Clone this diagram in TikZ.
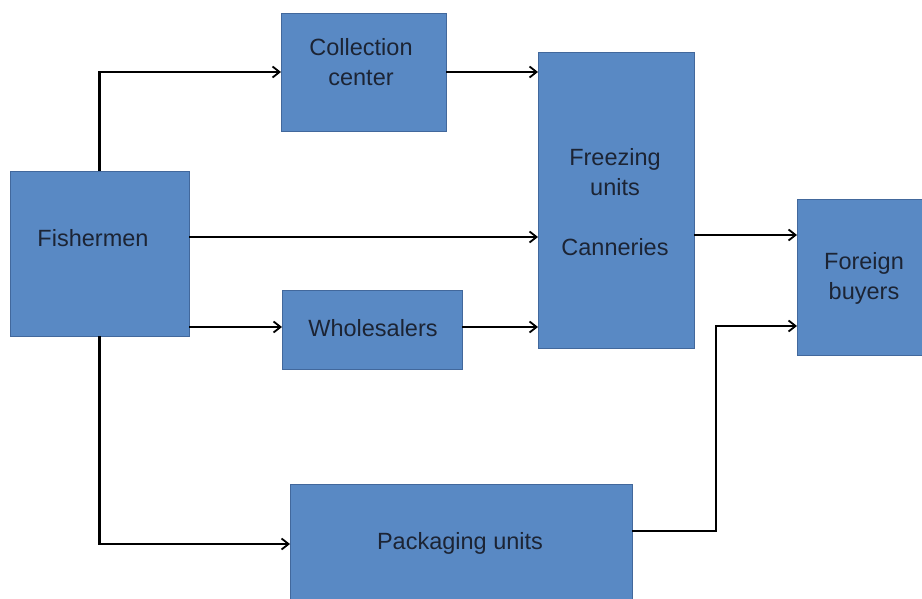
\documentclass[tikz,border=0pt]{standalone}
\usepackage{fontspec}
\setmainfont{Liberation Sans}
\usetikzlibrary{arrows.meta}
\definecolor{boxfill}{RGB}{89,137,196}
\definecolor{boxline}{RGB}{66,104,156}
\definecolor{txt}{RGB}{28,36,52}
\begin{document}
\begin{tikzpicture}[x=1pt,y=-1pt,
  box/.style={draw=boxline,line width=0.8pt,fill=boxfill,inner sep=0pt,outer sep=0pt},
  lbl/.style={text=txt,font=\fontsize{23.5}{30}\selectfont,align=center,inner sep=0pt},
  arr/.style={draw=black,line width=2.2pt,-{Straight Barb[length=7pt,width=11pt,line width=1.8pt]}}]
\useasboundingbox (0,0) rectangle (922,599);
\clip (0,0) rectangle (922,599);
% boxes
\node[box,minimum width=165pt,minimum height=118pt] (coll) at (363.5,72) {};
\node[box,minimum width=179pt,minimum height=165pt] (fish) at (99.5,253.5) {};
\node[box,minimum width=156pt,minimum height=296pt] (freeze) at (616,200) {};
\node[box,minimum width=180pt,minimum height=79pt] (whole) at (372,329.5) {};
\node[box,minimum width=140pt,minimum height=156pt] (foreign) at (867,277) {};
\node[box,minimum width=342pt,minimum height=160pt] (pack) at (461,564) {};
% labels
\node[lbl] (tcoll) at (361,62.5) {Collection\\center};
\node[lbl] (tfish) at (93,238) {Fishermen};
\node[lbl] (tfreeze) at (615,202) {Freezing\\units\\[30pt]Canneries};
\node[lbl] (twhole) at (373,328) {Wholesalers};
\node[lbl] (tforeign) at (864,278) {Foreign\\buyers};
\node[lbl] (tpack) at (460,543) {Packaging units};
% connectors
\draw[arr] (fish.north) |- (coll.west);
\draw[arr] (coll.east) -- (coll.east -| freeze.west);
\draw[arr] (fish.east |- {(0,237)}) -- (freeze.west |- {(0,237)});
\draw[arr] (fish.east |- {(0,327)}) -- (whole.west |- {(0,327)});
\draw[arr] (whole.east |- {(0,327)}) -- (freeze.west |- {(0,327)});
\draw[arr] (fish.south) |- (pack.west |- {(0,544)});
\draw[arr] (freeze.east |- {(0,235)}) -- (foreign.west |- {(0,235)});
\coordinate (bend) at (716,531);
\draw[arr] (pack.east |- bend) -- (bend) |- (foreign.west |- {(0,326)});
\end{tikzpicture}
\end{document}
